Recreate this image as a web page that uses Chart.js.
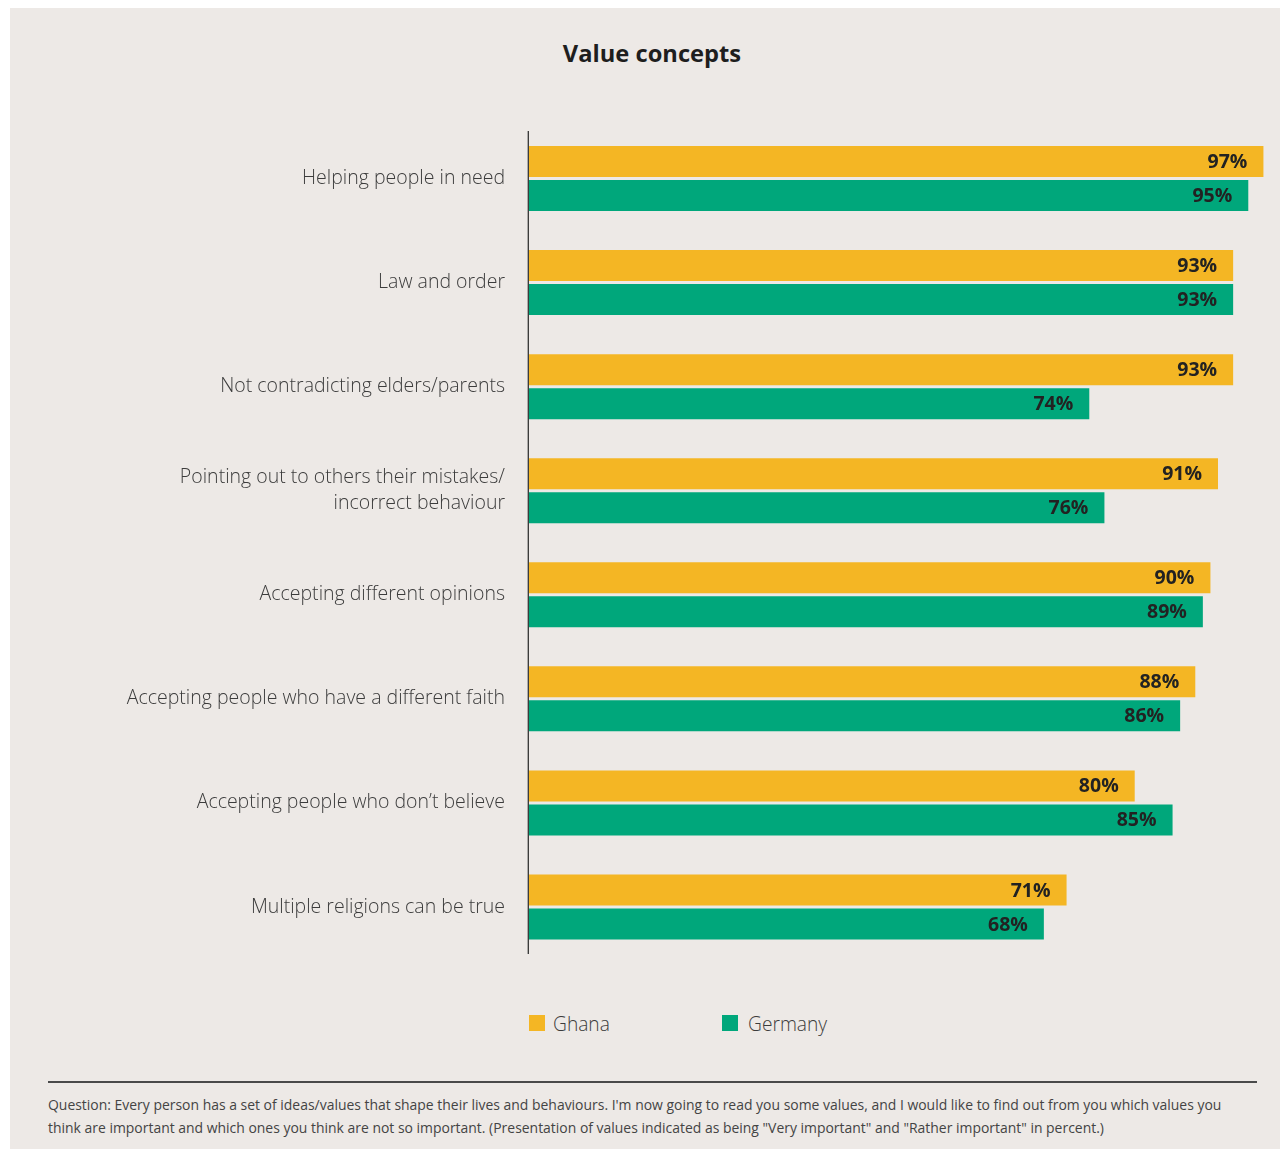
<!DOCTYPE html>
<html>
<head>
<meta charset="utf-8">
<title>Value concepts</title>
<script src="https://cdn.jsdelivr.net/npm/chart.js@4.4.1/dist/chart.umd.min.js"></script>
<style>
  html, body { margin: 0; padding: 0; background: #ffffff; }
  body { width: 1280px; height: 1149px; position: relative; overflow: hidden; font-family: "Open Sans", "Noto Sans", sans-serif; }
  #panel { position: absolute; left: 10px; top: 8px; width: 1270px; height: 1141px; background: #ede9e6; }
  #chartBox { position: absolute; left: 0; top: 0; width: 1280px; height: 1000px; }
  #title { position: absolute; left: 0; top: 37px; width: 1304px; text-align: center; font-size: 23.7px; line-height: 32px; font-weight: 700; color: #1e1e1e; margin: 0; }
  .legend-item { position: absolute; top: 1010px; height: 26px; display: flex; align-items: center; font-size: 19.2px; font-weight: 300; color: #3c3c3c; }
  .legend-item .sw { width: 16px; height: 16px; }
  #rule { position: absolute; left: 48px; top: 1081px; width: 1209px; height: 1.5px; background: #4a4a4a; }
  #note { position: absolute; left: 48px; top: 1093px; width: 1200px; font-size: 13.95px; line-height: 23px; font-weight: 400; color: #444444; }
</style>
</head>
<body>
<div id="panel"></div>
<h1 id="title">Value concepts</h1>
<div id="chartBox"><canvas id="chart"></canvas></div>
<div id="legend"></div>
<div id="rule"></div>
<div id="note">Question: Every person has a set of ideas/values that shape their lives and behaviours. I'm now going to read you some values, and I would like to find out from you which values you think are important and which ones you think are not so important. (Presentation of values indicated as being "Very important" and "Rather important" in percent.)</div>

<script>
// Value concepts, share rating each value "very" or "rather" important (%)
const categories = [
  "Helping people in need",
  "Law and order",
  "Not contradicting elders/parents",
  ["Pointing out to others their mistakes/", "incorrect behaviour"],
  "Accepting different opinions",
  "Accepting people who have a different faith",
  "Accepting people who don\u2019t believe",
  "Multiple religions can be true"
];
const seriesNames = ["Ghana", "Germany"];
const ghanaValues = [97, 93, 93, 91, 90, 88, 80, 71];
const germanyValues = [95, 93, 74, 76, 89, 86, 85, 68];
const seriesColors = ["#f4b624", "#00a77b"];

// Vertical axis line, slightly inset from the plot edges
const axisLine = {
  id: "axisLine",
  beforeDatasetsDraw(chart) {
    const { ctx, chartArea } = chart;
    ctx.save();
    ctx.strokeStyle = "#333333";
    ctx.lineWidth = 1.3;
    ctx.beginPath();
    ctx.moveTo(chartArea.left - 0.7, chartArea.top + 4.5);
    ctx.lineTo(chartArea.left - 0.7, chartArea.bottom - 5);
    ctx.stroke();
    ctx.restore();
  }
};

// Percentage labels inside the end of each bar
const barValueLabels = {
  id: "barValueLabels",
  afterDatasetsDraw(chart) {
    const { ctx } = chart;
    ctx.save();
    ctx.font = "700 19.5px 'Open Sans', 'Noto Sans', sans-serif";
    ctx.fillStyle = "#222222";
    ctx.textAlign = "right";
    ctx.textBaseline = "middle";
    chart.data.datasets.forEach((ds, di) => {
      chart.getDatasetMeta(di).data.forEach((bar, i) => {
        ctx.fillText(ds.data[i] + "%", bar.x - 16, bar.y + 1);
      });
    });
    ctx.restore();
  }
};

const chart = new Chart(document.getElementById("chart"), {
  type: "bar",
  data: {
    labels: categories,
    datasets: [
      { label: seriesNames[0], data: ghanaValues, backgroundColor: seriesColors[0] },
      { label: seriesNames[1], data: germanyValues, backgroundColor: seriesColors[1] }
    ]
  },
  options: {
    indexAxis: "y",
    responsive: true,
    maintainAspectRatio: false,
    animation: false,
    categoryPercentage: 68 / 104,
    barPercentage: 31 / 34,
    layout: { padding: { left: 0, right: 9, top: 126.5, bottom: 41 } },
    plugins: {
      legend: { display: false },
      tooltip: { enabled: false },
      title: { display: false }
    },
    scales: {
      x: {
        display: false,
        min: 0,
        max: 98
      },
      y: {
        grid: { display: false, drawTicks: false },
        border: { display: false },
        ticks: {
          color: "#3c3c3c",
          padding: 24,
          font: { family: "'Open Sans', 'Noto Sans', sans-serif", size: 19.5, weight: 300, lineHeight: 1.33 }
        },
        afterFit(scale) { scale.width = 529; }
      }
    }
  },
  plugins: [axisLine, barValueLabels]
});

// Legend built from the series names and colours
const legend = document.getElementById("legend");
const legendLefts = [529, 722];
const legendGaps = [8, 10];
seriesNames.forEach((name, i) => {
  const item = document.createElement("div");
  item.className = "legend-item";
  item.style.left = legendLefts[i] + "px";
  const sw = document.createElement("span");
  sw.className = "sw";
  sw.style.background = seriesColors[i];
  sw.style.marginRight = legendGaps[i] + "px";
  const txt = document.createElement("span");
  txt.textContent = name;
  item.appendChild(sw);
  item.appendChild(txt);
  legend.appendChild(item);
});
</script>
</body>
</html>
